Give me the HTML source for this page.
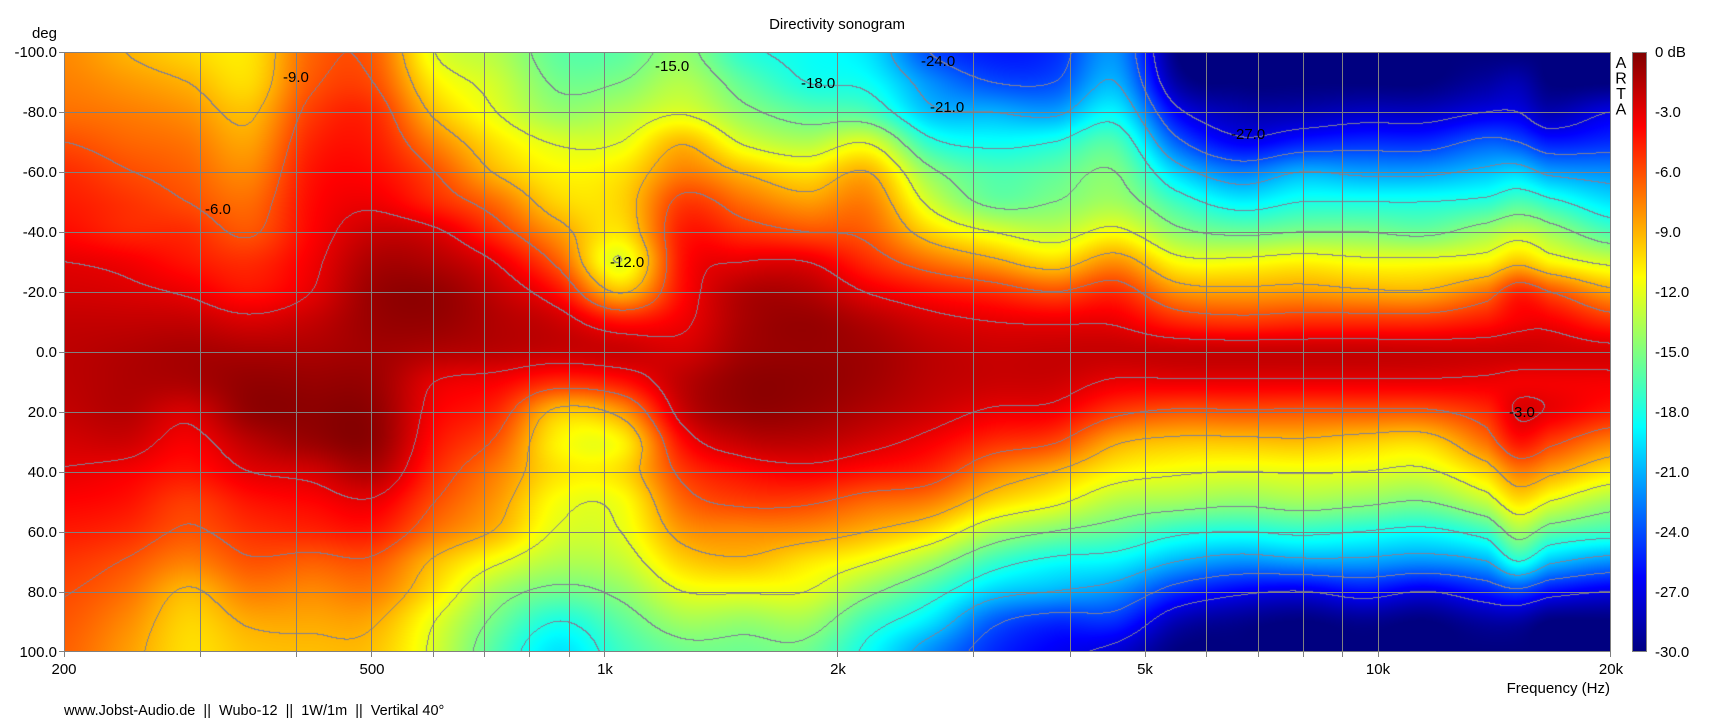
<!DOCTYPE html>
<html><head><meta charset="utf-8"><style>
html,body{margin:0;padding:0;background:#fff;}
#wrap{position:relative;width:1711px;height:723px;overflow:hidden;background:#fff;font-family:"Liberation Sans",Arial,sans-serif;}
#bg{position:absolute;left:64px;top:52px;width:1547px;height:600px;background:linear-gradient(to bottom,#40c0ff 0%,#c0ff40 20%,#ff6000 35%,#c00000 50%,#ff6000 62%,#c0ff40 78%,#40c0ff 100%);}
#c{position:absolute;left:64px;top:52px;width:1547px;height:600px;}
svg{position:absolute;left:0;top:0;}
</style></head><body><div id="wrap">
<div id="bg"></div>
<canvas id="c" width="1547" height="600"></canvas>
<svg width="1711" height="723" xmlns="http://www.w3.org/2000/svg" font-family="Liberation Sans, Arial, sans-serif">
<defs><linearGradient id="cb" x1="0" y1="0" x2="0" y2="1">
<stop offset="0" stop-color="#800000"/><stop offset="0.125" stop-color="#ff0000"/><stop offset="0.375" stop-color="#ffff00"/><stop offset="0.625" stop-color="#00ffff"/><stop offset="0.875" stop-color="#0000ff"/><stop offset="1" stop-color="#000080"/></linearGradient></defs>
<g stroke="#808080" stroke-width="1" shape-rendering="crispEdges" fill="none">
<path d="M200.5 52V657M296.5 52V657M371.5 52V657M433.5 52V657M484.5 52V657M529.5 52V657M569.5 52V657M604.5 52V657M837.5 52V657M973.5 52V657M1070.5 52V657M1145.5 52V657M1206.5 52V657M1258.5 52V657M1303.5 52V657M1342.5 52V657M1378.5 52V657M64.5 652V657M1610.5 652V657"/>
<path d="M59 52.5H1611M59 112.5H1611M59 172.5H1611M59 232.5H1611M59 292.5H1611M59 352.5H1611M59 412.5H1611M59 472.5H1611M59 532.5H1611M59 592.5H1611M59 651.5H1611"/>
<rect x="64.5" y="52.5" width="1546" height="599"/>
</g>
<rect x="1632" y="52" width="15" height="600" fill="url(#cb)"/>
<rect x="1632.5" y="52.5" width="14" height="599" fill="none" stroke="#808080" shape-rendering="crispEdges"/>
<g font-size="15" fill="#000">
<text x="837" y="29" text-anchor="middle">Directivity sonogram</text>
<text x="57" y="38" text-anchor="end">deg</text>
<g text-anchor="end">
<text x="57" y="57">-100.0</text><text x="57" y="117">-80.0</text><text x="57" y="177">-60.0</text><text x="57" y="237">-40.0</text><text x="57" y="297">-20.0</text><text x="57" y="357">0.0</text><text x="57" y="417">20.0</text><text x="57" y="477">40.0</text><text x="57" y="537">60.0</text><text x="57" y="597">80.0</text><text x="57" y="657">100.0</text>
</g>
<g text-anchor="middle">
<text x="64" y="674">200</text><text x="372" y="674">500</text><text x="605" y="674">1k</text><text x="838" y="674">2k</text><text x="1145" y="674">5k</text><text x="1378" y="674">10k</text><text x="1611" y="674">20k</text>
</g>
<text x="1610" y="693" text-anchor="end">Frequency (Hz)</text>
<text x="64" y="715" font-size="14.5" xml:space="preserve">www.Jobst-Audio.de  ||  Wubo-12  ||  1W/1m  ||  Vertikal 40°</text>
<g>
<text x="1655" y="57">0 dB</text><text x="1655" y="117">-3.0</text><text x="1655" y="177">-6.0</text><text x="1655" y="237">-9.0</text><text x="1655" y="297">-12.0</text><text x="1655" y="357">-15.0</text><text x="1655" y="417">-18.0</text><text x="1655" y="477">-21.0</text><text x="1655" y="537">-24.0</text><text x="1655" y="597">-27.0</text><text x="1655" y="657">-30.0</text>
</g>
<g font-size="16" text-anchor="middle">
<text x="1621" y="68">A</text><text x="1621" y="83.5">R</text><text x="1621" y="99">T</text><text x="1621" y="114.5">A</text>
</g>
<g>
<text x="283" y="82">-9.0</text><text x="205" y="214">-6.0</text><text x="655" y="71">-15.0</text><text x="801" y="88">-18.0</text><text x="921" y="66">-24.0</text><text x="930" y="112">-21.0</text><text x="610" y="267">-12.0</text><text x="1231" y="139">-27.0</text><text x="1509" y="417">-3.0</text>
</g>
</g>
</svg>
<script>
(function(){
var U=[0,0.04,0.08,0.12,0.16,0.20,0.24,0.28,0.32,0.36,0.40,0.44,0.48,0.52,0.56,0.60,0.64,0.68,0.72,0.76,0.80,0.84,0.88,0.92,0.94,0.96,1.0];
var D=[
[-7.8,-7.5,-7,-6,-5,-4.5,-4,-3,-2.5,-2,-1.8,-1.8,-2,-2.5,-3.1,-3.8,-4.5,-5.3,-5.9,-6.3,-6.6],
[-9,-8.2,-7.4,-6.7,-5.9,-5.2,-4.8,-3.4,-2.7,-2,-1.5,-1.4,-1.6,-2.3,-3.5,-4.2,-5,-6.1,-7,-7.8,-8.3],
[-10,-9,-8,-7.2,-6.6,-6,-5,-4.3,-3.2,-2,-1.2,-1.3,-2.6,-3.5,-4.3,-5.5,-6.2,-7.5,-9.2,-10,-10.3],
[-10.5,-10.2,-9.3,-8.5,-7.7,-6.9,-6.2,-5,-4.2,-2.6,-1.3,-0.6,-0.6,-1.8,-3,-4.3,-5.2,-6.2,-7.5,-8.8,-9.5],
[-6.7,-6.3,-5.5,-4.8,-4.3,-4,-3.8,-3.4,-3,-2,-1.3,-0.7,-0.4,-0.8,-2.5,-3.8,-4.8,-6.5,-7.8,-8.7,-9.3],
[-6.5,-6,-5,-4.5,-4,-3.3,-2.2,-1.3,-0.8,-0.8,-1,-0.8,-0.5,-0.5,-1.5,-3.2,-4.5,-6.3,-7.5,-8.8,-9.5],
[-12,-10.8,-9.4,-7.6,-6,-4.9,-2.7,-1.5,-0.6,-0.7,-1.5,-3,-3.6,-4.2,-5,-6,-7.2,-9.3,-10.5,-12,-12.5],
[-13.5,-12.7,-12,-10.5,-9.2,-7,-5.2,-3.1,-2,-1.5,-1.8,-3.6,-5,-6.3,-7.5,-8.3,-9.2,-11.7,-14,-15.5,-16.5],
[-16,-15.3,-14.2,-12.2,-11,-10,-8.3,-6.5,-4.2,-2.3,-2.2,-5,-9.5,-11,-10.5,-11.5,-12.2,-13.5,-15.5,-18,-19.5],
[-16,-15,-13.5,-12,-10.5,-10,-10.5,-12,-9.2,-4.2,-2.2,-4.3,-8.3,-11,-10.3,-11.5,-12,-13,-14.5,-16,-17],
[-14.5,-13.5,-12.2,-9.2,-7.5,-5.5,-4.5,-4.2,-4,-3.3,-2.5,-1.8,-2.3,-4,-5.5,-6.8,-8.3,-10,-12,-14,-15.5],
[-17.5,-16,-14.5,-12.3,-9.2,-7,-5.2,-3,-1.5,-1.2,-1,-0.5,-0.7,-2,-4,-5.6,-7.8,-9.3,-11.8,-14.3,-15.5],
[-18.5,-18,-16,-13.5,-10.5,-8.3,-6,-3,-1.5,-0.7,-0.7,-0.5,-0.8,-1.8,-3.5,-5.7,-8,-10.5,-12,-14,-15.5],
[-19.5,-18.5,-16.5,-12.2,-9,-7.5,-6.5,-5,-3.1,-1.5,-1,-1,-1.5,-2.5,-4.2,-6.8,-9,-11.8,-14.5,-17,-18.5],
[-24,-22,-20.5,-17.5,-14.5,-12.5,-10,-7,-4.2,-2.5,-1.8,-1.8,-2.3,-3.5,-5,-7.5,-10.5,-14,-17,-19.5,-22],
[-25.5,-24,-21,-18.5,-16.5,-15.5,-12,-8.5,-5,-3,-2.2,-2.2,-3.2,-5,-7.5,-10,-13.5,-17,-20,-23.5,-25],
[-25,-24,-21.5,-18,-16,-15,-13,-10,-6,-3.2,-2.1,-2.3,-3.5,-5.8,-9,-11.5,-15,-18.5,-21,-25,-26.5],
[-22,-21,-19,-16.5,-15,-14,-11.5,-8,-5,-3.2,-2.1,-3.2,-5.5,-8.7,-11,-13.5,-16,-19,-22,-25,-27.5],
[-30,-29,-26.5,-23.5,-20,-17,-14.5,-11.3,-8,-4.8,-2.1,-3.2,-6.3,-9.5,-11.7,-14,-17.5,-21,-25,-28.5,-30],
[-30,-30,-28.5,-26.5,-22.5,-19,-15.5,-11.5,-8.5,-5.3,-2.1,-3.2,-6.2,-9.5,-12,-14.5,-18,-22,-26.5,-29.5,-30],
[-30,-30,-28.5,-25.5,-21,-18,-15,-11,-8.3,-5,-2.1,-3.2,-6.3,-9.3,-11.8,-14,-17.5,-21.5,-27,-30,-30],
[-30,-30,-28,-25,-21.5,-18,-15,-11.5,-8.7,-5,-2.1,-3.2,-6.3,-9.8,-12,-14.5,-18,-21.5,-26,-29.5,-30],
[-30,-30,-28,-25,-21.5,-18,-15.5,-11.5,-8.8,-5,-2.2,-3.2,-6.3,-10,-12.3,-15,-18.5,-22,-27,-30,-30],
[-30,-29,-27,-23.5,-20.5,-17.5,-14,-11,-7,-4.3,-2.3,-3.3,-5,-7,-10,-13,-17,-21,-25.5,-29,-30],
[-30,-28.5,-27,-24,-20,-16.5,-13,-9.5,-4.8,-3.5,-2.3,-3.4,-2.8,-4.3,-7.5,-10.5,-14,-18,-24.5,-29,-30],
[-30,-30,-28.5,-25.5,-21.5,-17.5,-14,-11,-6,-3.5,-2.4,-3.4,-3.2,-5.5,-8.5,-12,-16,-20.5,-26,-30,-30],
[-30,-30,-27,-25,-22,-19.5,-16.5,-12.5,-8.5,-5,-2.6,-3.5,-4.5,-7.5,-10.5,-14,-17,-22,-27,-30,-30]
];
function cr(p0,p1,p2,p3,t){var t2=t*t,t3=t2*t;return 0.5*((2*p1)+(-p0+p2)*t+(2*p0-5*p1+4*p2-p3)*t2+(-p0+3*p1-3*p2+p3)*t3);}
function cl(v){return v<0?0:(v>1?1:v);}
var W=1547,H=600,cv=document.getElementById('c'),ctx=cv.getContext('2d');
var img=ctx.createImageData(W,H),d=img.data;
var V=new Float32Array(W*H),n=U.length;
for(var x=0;x<W;x++){
 var u=(x+0.5)/W,i=0;
 while(i<n-2&&U[i+1]<u)i++;
 var t=(u-U[i])/(U[i+1]-U[i]);
 var a0=D[Math.max(i-1,0)],a1=D[i],a2=D[i+1],a3=D[Math.min(i+2,n-1)];
 var col=[];
 for(var k=0;k<21;k++)col.push(cr(a0[k],a1[k],a2[k],a3[k],t));
 for(var y=0;y<H;y++){
  var a=y/(H-1)*20,j=Math.min(Math.floor(a),19),s=a-j;
  var v=cr(col[Math.max(j-1,0)],col[j],col[j+1],col[Math.min(j+2,20)],s);
  if(v>0)v=0;if(v<-30)v=-30;
  V[y*W+x]=v;
 }
}
function lev(v){if(v>-0.01)v=-0.01;if(v<-29.99)v=-29.99;return Math.floor(v/3);}
for(var y=0;y<H;y++){
 for(var x=0;x<W;x++){
  var p=y*W+x,v=V[p],tt=(v+30)/30,o=p*4;
  var L=lev(v),c=false;
  if(x<W-1&&lev(V[p+1])!==L)c=true;
  if(y<H-1&&lev(V[p+W])!==L)c=true;
  if(c){d[o]=128;d[o+1]=128;d[o+2]=150;}
  else{
   d[o]=Math.round(255*cl(1.5-Math.abs(4*tt-3)));
   d[o+1]=Math.round(255*cl(1.5-Math.abs(4*tt-2)));
   d[o+2]=Math.round(255*cl(1.5-Math.abs(4*tt-1)));
  }
  d[o+3]=255;
 }
}
ctx.putImageData(img,0,0);
})();
</script>
</div></body></html>
